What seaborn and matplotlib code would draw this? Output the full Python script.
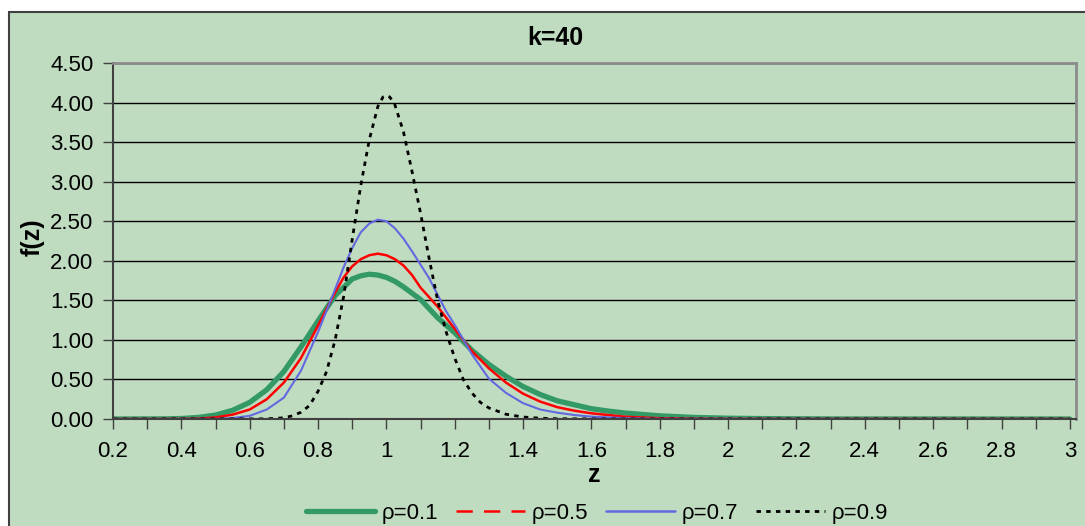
import matplotlib
matplotlib.use('Agg')
import matplotlib.pyplot as plt
from matplotlib.lines import Line2D
from matplotlib.patches import Rectangle
from matplotlib.ticker import MultipleLocator, FuncFormatter
import seaborn as sns

# values (k=40)
z_rho01 = [0.2, 0.35, 0.4, 0.45, 0.5, 0.55, 0.6, 0.65, 0.7, 0.75, 0.8, 0.85, 0.9, 0.925,
           0.95, 0.975, 1.0, 1.025, 1.05, 1.1, 1.15, 1.2, 1.25, 1.3, 1.35, 1.4, 1.45, 1.5,
           1.55, 1.6, 1.65, 1.7, 1.8, 1.9, 2.0, 2.1, 2.3, 3.0]
f_rho01 = [0, 0.002, 0.006, 0.02, 0.05, 0.11, 0.21, 0.37, 0.60, 0.91, 1.24, 1.56, 1.77, 1.81,
           1.83, 1.82, 1.79, 1.74, 1.67, 1.51, 1.28, 1.09, 0.87, 0.69, 0.54, 0.41, 0.31, 0.23,
           0.18, 0.13, 0.10, 0.075, 0.04, 0.02, 0.01, 0.005, 0.001, 0]

z_rho05 = [0.2, 0.4, 0.45, 0.5, 0.55, 0.6, 0.65, 0.7, 0.75, 0.8, 0.85, 0.875, 0.9, 0.925,
           0.95, 0.975, 1.0, 1.025, 1.05, 1.075, 1.1, 1.15, 1.2, 1.25, 1.3, 1.35, 1.4, 1.45,
           1.5, 1.55, 1.6, 1.7, 1.8, 1.9, 2.0, 3.0]
f_rho05 = [0, 0.001, 0.005, 0.02, 0.055, 0.12, 0.25, 0.46, 0.77, 1.18, 1.60, 1.79, 1.93, 2.02,
           2.07, 2.09, 2.07, 2.02, 1.94, 1.82, 1.66, 1.42, 1.14, 0.86, 0.64, 0.46, 0.32, 0.22,
           0.15, 0.105, 0.072, 0.028, 0.01, 0.004, 0.001, 0]

z_rho07 = [0.2, 0.5, 0.55, 0.6, 0.65, 0.7, 0.75, 0.8, 0.85, 0.875, 0.9, 0.925, 0.95, 0.975,
           1.0, 1.025, 1.05, 1.075, 1.1, 1.125, 1.15, 1.175, 1.2, 1.25, 1.3, 1.35, 1.4, 1.45,
           1.5, 1.55, 1.6, 1.7, 1.8, 3.0]
f_rho07 = [0, 0.002, 0.012, 0.04, 0.12, 0.27, 0.61, 1.10, 1.64, 1.92, 2.16, 2.36, 2.47, 2.52,
           2.50, 2.41, 2.28, 2.12, 1.95, 1.78, 1.57, 1.36, 1.19, 0.82, 0.51, 0.33, 0.20, 0.12,
           0.08, 0.05, 0.03, 0.01, 0.003, 0]

z_rho09 = [0.2, 0.65, 0.7, 0.725, 0.75, 0.775, 0.8, 0.825, 0.85, 0.875, 0.9, 0.925, 0.95,
           0.975, 0.99, 1.0, 1.01, 1.025, 1.05, 1.075, 1.1, 1.125, 1.15, 1.175, 1.2, 1.225,
           1.25, 1.275, 1.3, 1.35, 1.4, 1.45, 1.5, 1.6, 3.0]
f_rho09 = [0, 0.002, 0.015, 0.04, 0.085, 0.17, 0.35, 0.60, 1.00, 1.55, 2.27, 2.95, 3.53,
           3.95, 4.07, 4.09, 4.07, 3.97, 3.63, 3.13, 2.60, 2.03, 1.50, 1.10, 0.77, 0.50,
           0.33, 0.21, 0.14, 0.06, 0.025, 0.01, 0.003, 0.001, 0]

labels = ['\u03c1=0.1', '\u03c1=0.5', '\u03c1=0.7', '\u03c1=0.9']

BG = '#C0DCC0'
W, H = 1085, 526

sns.set_style('white')
plt.rcParams['font.family'] = ['Liberation Sans', 'DejaVu Sans']
plt.rcParams['text.color'] = 'black'

fig = plt.figure(figsize=(W / 100, H / 100), dpi=100)
fig.patch.set_facecolor('white')
# chart area (left and top edge visible, rest runs off the picture)
fig.patches.append(Rectangle((9 / W, -0.05), 1.1, 1 - 12 / H + 0.05, transform=fig.transFigure,
                             facecolor=BG, edgecolor='#404040', lw=1.5, zorder=-10))

ax = fig.add_axes([113 / W, 1 - 419 / H, 963 / W, 356 / H])
ax.set_facecolor(BG)

# series: (x, y, colour, width, line style in plot)
styles = [
    (z_rho01, f_rho01, '#339966', 3.8, '-'),
    (z_rho05, f_rho05, '#FF0000', 1.8, '-'),
    (z_rho07, f_rho07, '#6468E0', 1.5, '-'),
    (z_rho09, f_rho09, 'black', 2.0, (0, (1.6, 1.9))),
]
for z, f, color, lw, ls in styles:
    sns.lineplot(x=z, y=f, color=color, linewidth=lw, linestyle=ls, ax=ax,
                 sort=False, estimator=None)

ax.set_xlim(0.2, 3.018)
ax.set_ylim(0, 4.5)
ax.xaxis.set_major_locator(MultipleLocator(0.2))
ax.xaxis.set_minor_locator(MultipleLocator(0.1))
ax.yaxis.set_major_locator(MultipleLocator(0.5))


def fmt_x(v, pos):
    r = round(v, 1)
    return f'{int(r)}' if abs(r - round(r)) < 1e-9 else f'{r:.1f}'


ax.xaxis.set_major_formatter(FuncFormatter(fmt_x))
ax.yaxis.set_major_formatter(FuncFormatter(lambda v, p: f'{v:.2f}'))

ax.tick_params(axis='both', which='both', direction='out', length=7, width=1,
               color='#404040', labelsize=16, labelcolor='black',
               bottom=True, left=True)
ax.tick_params(axis='x', which='both', pad=9)
ax.tick_params(axis='y', pad=7)

ax.grid(axis='y', color='black', lw=1)
ax.grid(axis='x', visible=False)
ax.set_axisbelow(True)

for side in ['left', 'bottom']:
    ax.spines[side].set_color('#404040')
    ax.spines[side].set_linewidth(1.5)
for side in ['top', 'right']:
    ax.spines[side].set_color('#8C8C8C')
    ax.spines[side].set_linewidth(2)

ax.set_xlabel('z', fontsize=18, fontweight='bold', color='black')
ax.xaxis.set_label_coords(0.5, -0.125)
ax.set_ylabel('f(z)', fontsize=18, fontweight='bold', color='black')
ax.yaxis.set_label_coords(-0.071, 0.51)

fig.text(555 / W, 1 - 38 / H, 'k=40', ha='center', va='center', fontsize=18,
         fontweight='bold', color='black')

handles = [
    Line2D([], [], color='#339966', lw=3.8),
    Line2D([], [], color='#FF0000', lw=1.8, linestyle=(0, (6.5, 4.5))),
    Line2D([], [], color='#6468E0', lw=1.8),
    Line2D([], [], color='black', lw=2.0, linestyle=(0, (1.6, 1.9))),
]
fig.legend(handles, labels, loc='center', bbox_to_anchor=(597 / W, 1 - 513 / H), ncol=4,
           frameon=False, fontsize=16, handlelength=3.1, handletextpad=0.3,
           columnspacing=0.8, labelcolor='black')

fig.savefig('out.png', dpi=100, facecolor='white')
